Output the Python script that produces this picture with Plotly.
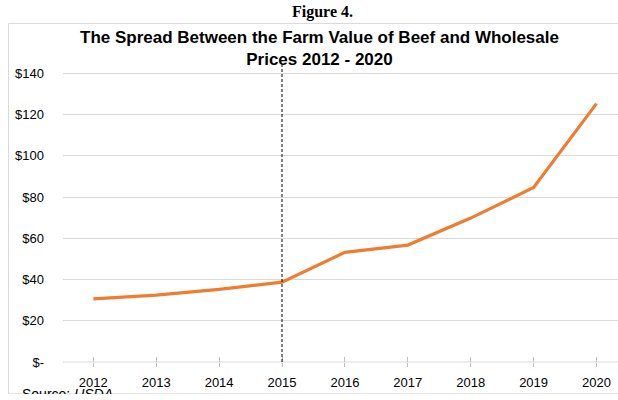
import plotly.graph_objects as go

years = ["2012", "2013", "2014", "2015", "2016", "2017", "2018", "2019", "2020"]
spread = [30.6, 32.4, 35.2, 38.7, 53.2, 56.7, 69.8, 84.6, 125.3]
y_ticks = [0, 20, 40, 60, 80, 100, 120, 140]
y_tick_labels = ["$-", "$20", "$40", "$60", "$80", "$100", "$120", "$140"]
marker_year = "2015"

W, H = 618, 394
ML, MR, MT, MB = 63, 0, 63, 32.3
FONT = "Liberation Sans, Arial, sans-serif"

fig = go.Figure()
fig.add_trace(go.Scatter(
    x=years, y=spread, mode="lines",
    line=dict(color="#ED7D31", width=3.2),
    hoverinfo="skip", showlegend=False,
))
# invisible trace for inside ticks on overlay axis
fig.add_trace(go.Scatter(x=years, y=spread, xaxis="x2", mode="none",
                         hoverinfo="skip", showlegend=False))

idx = years.index(marker_year)
fig.add_shape(type="line", xref="x", yref="y", x0=idx, x1=idx, y0=0, y1=145,
              line=dict(color="black", width=1, dash="3px,2px"), layer="above")

pw = W - ML - MR
ph = H - MT - MB
def px2x(p):
    return (p - ML) / pw
def py2y(p):
    return (H - MB - p) / ph

# chart box border
fig.add_shape(type="rect", xref="paper", yref="paper",
              x0=px2x(8.5), x1=px2x(640), y0=py2y(393.5), y1=py2y(23.5),
              line=dict(color="#D9D9D9", width=1), fillcolor="rgba(0,0,0,0)", layer="below")

xr = [-0.482, 8.342]
fig.update_layout(
    width=W, height=H,
    margin=dict(l=ML, r=MR, t=MT, b=MB, pad=0),
    paper_bgcolor="white", plot_bgcolor="white",
    font=dict(family=FONT, size=13, color="black"),
    xaxis=dict(type="category", range=xr, showgrid=False, showline=False, zeroline=False,
               ticks="outside", ticklen=4, tickcolor="#BFBFBF", tickwidth=1,
               tickfont=dict(family=FONT, size=13), ticklabelstandoff=4),
    xaxis2=dict(type="category", range=xr, overlaying="x", showgrid=False, showline=False,
                zeroline=False, ticks="inside", ticklen=5, tickcolor="#BFBFBF", tickwidth=1,
                showticklabels=False),
    yaxis=dict(range=[0, 145], tickvals=y_ticks, ticktext=y_tick_labels,
               showgrid=True, gridcolor="#D9D9D9", gridwidth=1, zeroline=False,
               showline=False, ticks="", tickfont=dict(family=FONT, size=13),
               ticklabelstandoff=18),
    annotations=[
        dict(text="<b>Figure 4.</b>", xref="paper", yref="paper", x=px2x(322), y=py2y(12),
             xanchor="center", yanchor="middle", showarrow=False,
             font=dict(family="Liberation Serif, Times New Roman, serif", size=16, color="black")),
        dict(text="<b>The Spread Between the Farm Value of Beef and Wholesale</b><br><b>Prices 2012 - 2020</b>",
             xref="paper", yref="paper", x=px2x(319), y=py2y(48.5),
             xanchor="center", yanchor="middle", showarrow=False, align="center",
             font=dict(family=FONT, size=17, color="black")),
        dict(text="Source: <i>USDA</i>", xref="paper", yref="paper", x=px2x(20), y=py2y(404),
             xanchor="left", yanchor="bottom", showarrow=False,
             font=dict(family=FONT, size=14, color="black")),
    ],
)
fig.add_shape(type="line", xref="paper", yref="paper", x0=0, x1=1, y0=0, y1=0,
              line=dict(color="#D9D9D9", width=1), layer="below")

fig.write_html("out.html", config={"displayModeBar": False},
               post_script="document.body.style.margin='0';")
